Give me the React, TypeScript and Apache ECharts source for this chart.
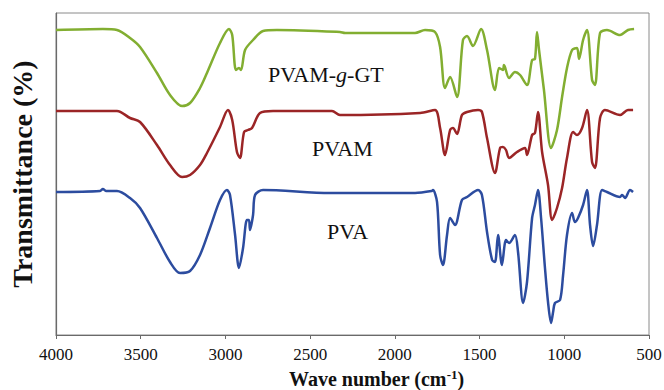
import React, { useEffect, useRef } from "react";
import * as echarts from "echarts";

const xTicks = [500, 1000, 1500, 2000, 2500, 3000, 3500, 4000];
const seriesNames = ["PVAM-g-GT", "PVAM", "PVA"];

// [wavenumber (cm-1), transmittance (arb. offset units)]
const pvamGGT: number[][] = [
  [4000, 305], [3723, 306], [3640, 305], [3563, 297], [3504, 288], [3404, 262], [3327, 240],
  [3256, 229], [3209, 232], [3150, 247], [3109, 262], [3032, 292], [2979, 306], [2960, 300],
  [2938, 265], [2920, 267], [2908, 265], [2884, 285], [2837, 295], [2778, 304], [2696, 305],
  [2324, 303], [2294, 302], [1881, 302], [1822, 305], [1763, 303], [1733, 288], [1704, 247],
  [1674, 258], [1633, 238], [1598, 295], [1574, 299], [1539, 289], [1491, 306], [1456, 285],
  [1409, 245], [1385, 267], [1362, 265], [1356, 270], [1326, 257], [1291, 263], [1261, 260],
  [1220, 250], [1190, 275], [1173, 276], [1161, 303], [1149, 285], [1120, 245], [1078, 187],
  [1043, 205], [1013, 238], [984, 267], [954, 285], [925, 287], [913, 276], [889, 295],
  [866, 305], [836, 255], [819, 250], [789, 302], [748, 305], [671, 300], [624, 305], [588, 306],
];

const pvam: number[][] = [
  [4000, 224], [3640, 224], [3563, 217], [3504, 213], [3404, 190], [3327, 170], [3256, 158],
  [3209, 160], [3150, 170], [3109, 182], [3032, 208], [2985, 225], [2960, 215], [2932, 183],
  [2914, 177], [2890, 203], [2867, 205], [2843, 207], [2796, 222], [2719, 224], [2371, 224],
  [2324, 220], [1851, 222], [1763, 225], [1733, 207], [1704, 180], [1674, 205], [1657, 207],
  [1633, 201], [1604, 220], [1574, 223], [1509, 225], [1486, 223], [1456, 197], [1409, 162],
  [1379, 187], [1362, 188], [1344, 185], [1326, 177], [1279, 183], [1232, 187], [1220, 180],
  [1190, 200], [1173, 202], [1155, 223], [1131, 183], [1096, 150], [1072, 115], [1043, 127],
  [1013, 147], [984, 177], [948, 203], [925, 200], [895, 207], [866, 225], [836, 173],
  [819, 167], [789, 217], [760, 225], [671, 220], [624, 225], [594, 225],
];

const pva: number[][] = [
  [4000, 143], [3740, 144], [3723, 146], [3705, 144], [3640, 144], [3563, 137], [3504, 127],
  [3404, 97], [3327, 73], [3268, 62], [3209, 64], [3150, 80], [3091, 107], [3032, 135],
  [2991, 145], [2973, 140], [2943, 100], [2920, 67], [2896, 87], [2873, 115], [2861, 115],
  [2855, 105], [2837, 120], [2825, 140], [2778, 145], [2383, 142], [1881, 142], [1781, 144],
  [1775, 145], [1751, 133], [1733, 80], [1716, 70], [1692, 100], [1674, 117], [1645, 110],
  [1604, 135], [1574, 138], [1509, 145], [1486, 140], [1456, 103], [1426, 75], [1409, 73],
  [1391, 100], [1368, 70], [1344, 95], [1326, 92], [1291, 100], [1273, 83], [1243, 32],
  [1220, 53], [1190, 117], [1173, 130], [1155, 145], [1137, 117], [1114, 67], [1096, 33],
  [1078, 12], [1066, 23], [1055, 32], [1025, 35], [1007, 60], [984, 100], [954, 122],
  [937, 113], [919, 117], [889, 130], [866, 145], [848, 110], [830, 89], [807, 110],
  [777, 145], [748, 143], [671, 138], [659, 140], [641, 137], [612, 145], [594, 143],
];

const colors = ["#82ae31", "#9b2526", "#2c4c9f"];
const serif = "'Liberation Serif', 'Times New Roman', serif";

export default function App() {
  const ref = useRef<HTMLDivElement>(null);
  useEffect(() => {
    if (!ref.current) return;
    const chart = echarts.init(ref.current, undefined, { renderer: "svg" });
    const datasets = [pvamGGT, pvam, pva];
    chart.setOption({
      animation: false,
      backgroundColor: "#ffffff",
      grid: {
        left: 56, right: 15, top: 13, bottom: 55,
        show: true, borderColor: "#8a8a8a", borderWidth: 1,
        containLabel: false,
        outerBoundsMode: "none",
      },
      xAxis: {
        type: "value",
        min: 500, max: 4000, interval: 500, inverse: true,
        axisLine: { show: true, lineStyle: { color: "#6a6a6a", width: 1.2 } },
        axisTick: { show: true, inside: false, length: 4, lineStyle: { color: "#6a6a6a" } },
        splitLine: { show: false },
        axisLabel: {
          color: "#111", fontFamily: serif, fontSize: 17, margin: 11,
          customValues: xTicks,
          formatter: (v: number) => String(v),
        },
        name: "Wave number (cm{sup|-1})",
        nameLocation: "middle",
        nameGap: 32,
        nameTextStyle: {
          color: "#111", fontFamily: serif, fontSize: 20, fontWeight: "bold",
          padding: [0, 0, 0, 48],
          rich: {
            sup: { fontFamily: serif, fontSize: 13, fontWeight: "bold", color: "#111", padding: [0, 0, 9, 0] },
          },
        },
      },
      yAxis: {
        type: "value",
        min: 0, max: 322,
        axisLine: { show: true, lineStyle: { color: "#6a6a6a", width: 1.2 } },
        axisTick: { show: false },
        axisLabel: { show: false },
        splitLine: { show: false },
        name: "Transmittance (%)",
        nameLocation: "middle",
        nameGap: 20,
        nameRotate: 90,
        nameTextStyle: {
          color: "#111", fontFamily: serif, fontSize: 28, fontWeight: "bold",
        },
      },
      series: datasets.map((d, i) => ({
        name: seriesNames[i],
        type: "line",
        data: d,
        showSymbol: false,
        smooth: 0.3,
        lineStyle: { color: colors[i], width: 2.5 },
      })),
      graphic: [
        {
          type: "text", left: 268, top: 63,
          style: {
            text: "PVAM-{i|g}-GT", fontFamily: serif, fontSize: 22, fill: "#111",
            rich: { i: { fontFamily: serif, fontSize: 22, fontStyle: "italic", fill: "#111" } },
          },
        },
        {
          type: "text", left: 312, top: 137,
          style: { text: "PVAM", fontFamily: serif, fontSize: 22, fill: "#111" },
        },
        {
          type: "text", left: 327, top: 220,
          style: { text: "PVA", fontFamily: serif, fontSize: 22, fill: "#111" },
        },
      ],
    });
    return () => chart.dispose();
  }, []);
  return (
    <div
      ref={ref}
      style={{ position: "fixed", left: 0, top: 0, width: 664, height: 390, background: "#fff" }}
    />
  );
}
